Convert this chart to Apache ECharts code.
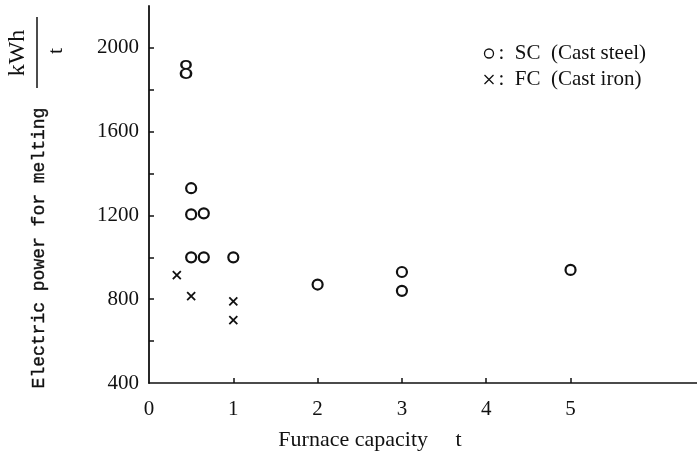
<!DOCTYPE html>
<html>
<head>
<meta charset="utf-8">
<script src="https://cdn.jsdelivr.net/npm/echarts@6/dist/echarts.min.js"></script>
<style>html,body{margin:0;padding:0;background:#fff;}#c{width:697px;height:464px;}</style>
</head>
<body>
<div id="c"></div>
<script>
// Data
var scCapacity = [0.5, 0.5, 0.65, 0.5, 0.65, 1, 2, 3, 3, 5];
var scPower    = [1330, 1205, 1210, 1000, 1000, 1000, 870, 930, 840, 940];
var fcCapacity = [0.33, 0.5, 1, 1];
var fcPower    = [915, 815, 790, 700];
var xTickLabels = [0, 1, 2, 3, 4, 5];
var yTickLabels = [400, 800, 1200, 1600, 2000];
var seriesNames = ['SC  (Cast steel)', 'FC  (Cast iron)'];

function pairs(xs, ys) { return xs.map(function (x, i) { return [x, ys[i]]; }); }

var serif = 'Liberation Serif';
var ink = '#111';
var crossPath = 'path://M0,0L10,10M10,0L0,10';

var chart = echarts.init(document.getElementById('c'));
chart.setOption({
  animation: false,
  backgroundColor: '#fff',
  grid: { left: 149, right: 0, top: 6, bottom: 81 },
  xAxis: {
    type: 'value', min: 0, max: 6.5, interval: 1,
    axisLine: { lineStyle: { color: ink, width: 1.6 } },
    axisTick: { inside: true, length: 5, customValues: [1, 2, 3, 4, 5], lineStyle: { color: ink, width: 1.5 } },
    axisLabel: { customValues: xTickLabels, color: ink, fontFamily: serif, fontSize: 21, margin: 16 },
    splitLine: { show: false }
  },
  yAxis: {
    type: 'value', min: 400, max: 2200, interval: 200,
    axisLine: { show: true, lineStyle: { color: ink, width: 1.8 } },
    axisTick: { show: true, inside: true, length: 5, customValues: [600, 800, 1000, 1200, 1400, 1600, 1800, 2000], lineStyle: { color: ink, width: 1.5 } },
    axisLabel: {
      color: ink, fontFamily: serif, fontSize: 21, margin: 10,
      formatter: function (v) { return yTickLabels.indexOf(v) >= 0 ? String(v) : ''; }
    },
    splitLine: { show: false }
  },
  legend: {
    orient: 'vertical', left: 477, top: 38, itemGap: 5,
    itemWidth: 9, itemHeight: 9,
    textStyle: { color: ink, fontFamily: serif, fontSize: 21 },
    formatter: function (n) { return ':  ' + n; },
    data: [
      { name: seriesNames[0], icon: 'circle', itemStyle: { color: '#fff', borderColor: ink, borderWidth: 1.3 } },
      { name: seriesNames[1], icon: crossPath, itemStyle: { color: 'none', borderColor: ink, borderWidth: 1.3 } }
    ]
  },
  series: [
    {
      name: seriesNames[0], type: 'scatter', symbol: 'circle', symbolSize: 10,
      itemStyle: { color: '#fff', borderColor: ink, borderWidth: 2.2, opacity: 1 },
      data: pairs(scCapacity, scPower)
    },
    {
      name: seriesNames[1], type: 'scatter', symbol: crossPath, symbolSize: 8,
      itemStyle: { color: 'none', borderColor: ink, borderWidth: 1.8, opacity: 1 },
      data: pairs(fcCapacity, fcPower)
    }
  ],
  graphic: [
    { type: 'text', x: 39, y: 248, rotation: Math.PI / 2,
      style: { text: 'Electric power for melting', fill: ink, font: '18px "Liberation Mono"', align: 'center', verticalAlign: 'middle', stroke: ink, lineWidth: 0.4 } },
    { type: 'text', x: 18, y: 53, rotation: Math.PI / 2,
      style: { text: 'kWh', fill: ink, font: '24px "Liberation Serif"', align: 'center', verticalAlign: 'middle' } },
    { type: 'line', shape: { x1: 37, y1: 17, x2: 37, y2: 88 }, style: { stroke: ink, lineWidth: 1.5 } },
    { type: 'text', x: 56, y: 51, rotation: Math.PI / 2,
      style: { text: 't', fill: ink, font: '22px "Liberation Serif"', align: 'center', verticalAlign: 'middle' } },
    { type: 'text', x: 186, y: 72,
      style: { text: '8', fill: ink, font: '27px "Liberation Sans"', align: 'center', verticalAlign: 'middle' } },
    { type: 'text', x: 370, y: 440,
      style: { text: 'Furnace capacity     t', fill: ink, font: '22px "Liberation Serif"', align: 'center', verticalAlign: 'middle' } }
  ]
});
</script>
</body>
</html>
